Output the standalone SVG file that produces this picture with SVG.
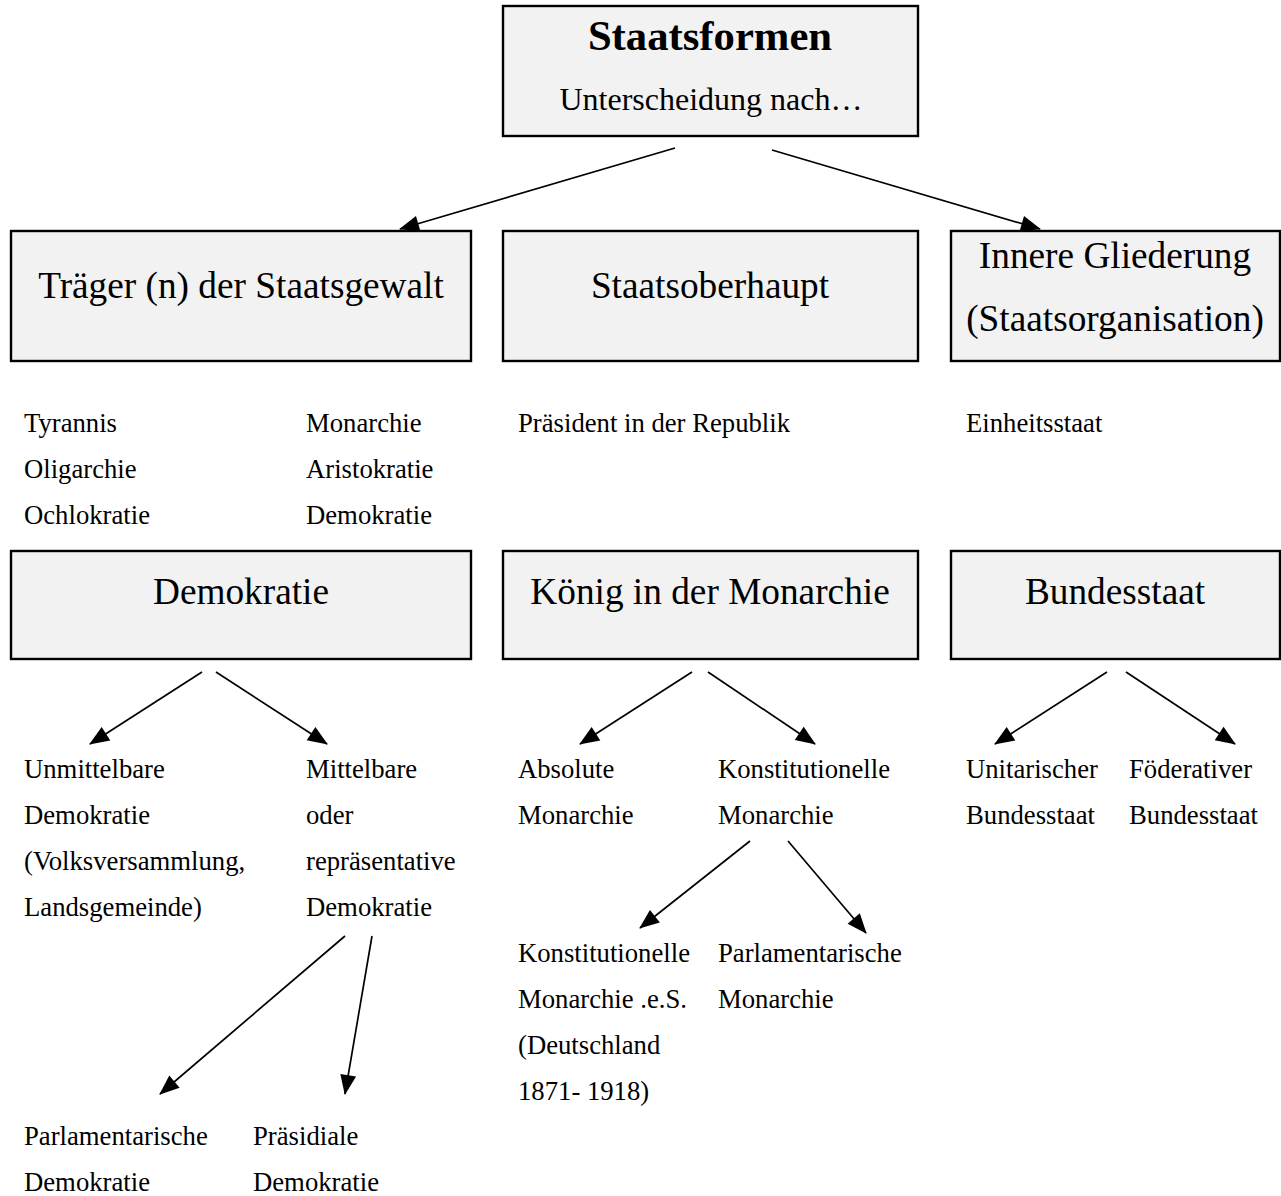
<svg xmlns="http://www.w3.org/2000/svg" width="1281" height="1196" viewBox="0 0 1281 1196">
<style>
.box{fill:#f2f2f2;stroke:#000;stroke-width:2.4}
text{font-family:"Liberation Serif","Times New Roman",serif;fill:#000}
.big{font-size:37.3px;text-anchor:middle}
.sm{font-size:26.7px}
.conn line{stroke:#000;stroke-width:1.7;marker-end:url(#ah)}
</style>
<defs>
<marker id="ah" viewBox="0 0 20 16" refX="19" refY="8" markerWidth="20" markerHeight="16" markerUnits="userSpaceOnUse" orient="auto" overflow="visible">
<path d="M0,0 L20,8 L0,16 z" fill="#000"/>
</marker>
</defs>
<rect width="1281" height="1196" fill="#fff"/>
<g id="staatsformen">
<rect class="box" x="503" y="6" width="415" height="130"/>
<text x="710" y="50" style="font-size:42.7px;font-weight:bold;text-anchor:middle">Staatsformen</text>
<text x="711" y="110" style="font-size:32px;text-anchor:middle">Unterscheidung nach…</text>
</g>
<g id="traeger">
<rect class="box" x="11" y="231" width="460" height="130"/>
<text class="big" x="241" y="298">Träger (n) der Staatsgewalt</text>
</g>
<g id="staatsoberhaupt">
<rect class="box" x="503" y="231" width="415" height="130"/>
<text class="big" x="710" y="298">Staatsoberhaupt</text>
</g>
<g id="innere">
<rect class="box" x="951" y="231" width="329" height="130"/>
<text class="big" x="1115" y="268">Innere Gliederung</text>
<text class="big" x="1115" y="331">(Staatsorganisation)</text>
</g>
<g id="demokratie">
<rect class="box" x="11" y="551" width="460" height="108"/>
<text class="big" x="241" y="604">Demokratie</text>
</g>
<g id="koenig">
<rect class="box" x="503" y="551" width="415" height="108"/>
<text class="big" x="710" y="604">König in der Monarchie</text>
</g>
<g id="bundesstaat">
<rect class="box" x="951" y="551" width="329" height="108"/>
<text class="big" x="1115" y="604">Bundesstaat</text>
</g>
<g id="formen-links">
<text class="sm" x="24" y="432">Tyrannis</text>
<text class="sm" x="24" y="478">Oligarchie</text>
<text class="sm" x="24" y="524">Ochlokratie</text>
</g>
<g id="formen-rechts">
<text class="sm" x="306" y="432">Monarchie</text>
<text class="sm" x="306" y="478">Aristokratie</text>
<text class="sm" x="306" y="524">Demokratie</text>
</g>
<g id="praesident"><text class="sm" x="518" y="432">Präsident in der Republik</text></g>
<g id="einheitsstaat"><text class="sm" x="966" y="432">Einheitsstaat</text></g>
<g id="unmittelbare">
<text class="sm" x="24" y="778">Unmittelbare</text>
<text class="sm" x="24" y="824">Demokratie</text>
<text class="sm" x="24" y="870">(Volksversammlung,</text>
<text class="sm" x="24" y="916">Landsgemeinde)</text>
</g>
<g id="mittelbare">
<text class="sm" x="306" y="778">Mittelbare</text>
<text class="sm" x="306" y="824">oder</text>
<text class="sm" x="306" y="870">repräsentative</text>
<text class="sm" x="306" y="916">Demokratie</text>
</g>
<g id="absolute">
<text class="sm" x="518" y="778">Absolute</text>
<text class="sm" x="518" y="824">Monarchie</text>
</g>
<g id="konstitutionelle">
<text class="sm" x="718" y="778">Konstitutionelle</text>
<text class="sm" x="718" y="824">Monarchie</text>
</g>
<g id="unitarischer">
<text class="sm" x="966" y="778">Unitarischer</text>
<text class="sm" x="966" y="824">Bundesstaat</text>
</g>
<g id="foederativer">
<text class="sm" x="1129" y="778">Föderativer</text>
<text class="sm" x="1129" y="824">Bundesstaat</text>
</g>
<g id="konst-es">
<text class="sm" x="518" y="962">Konstitutionelle</text>
<text class="sm" x="518" y="1008">Monarchie .e.S.</text>
<text class="sm" x="518" y="1054">(Deutschland</text>
<text class="sm" x="518" y="1100">1871- 1918)</text>
</g>
<g id="parl-monarchie">
<text class="sm" x="718" y="962">Parlamentarische</text>
<text class="sm" x="718" y="1008">Monarchie</text>
</g>
<g id="parl-demokratie">
<text class="sm" x="24" y="1145">Parlamentarische</text>
<text class="sm" x="24" y="1191">Demokratie</text>
</g>
<g id="praes-demokratie">
<text class="sm" x="253" y="1145">Präsidiale</text>
<text class="sm" x="253" y="1191">Demokratie</text>
</g>
<g id="connectors" class="conn">
<line x1="675" y1="148" x2="400" y2="229"/>
<line x1="772" y1="150" x2="1040" y2="229"/>
<line x1="202" y1="672" x2="90" y2="744"/>
<line x1="216" y1="672" x2="327" y2="744"/>
<line x1="692" y1="672" x2="580" y2="744"/>
<line x1="708" y1="672" x2="815" y2="744"/>
<line x1="1107" y1="672" x2="995" y2="744"/>
<line x1="1126" y1="672" x2="1235" y2="744"/>
<line x1="750" y1="841" x2="640" y2="928"/>
<line x1="788" y1="841" x2="866" y2="933"/>
<line x1="345" y1="936" x2="160" y2="1094"/>
<line x1="372" y1="936" x2="345" y2="1094"/>
</g>
</svg>
